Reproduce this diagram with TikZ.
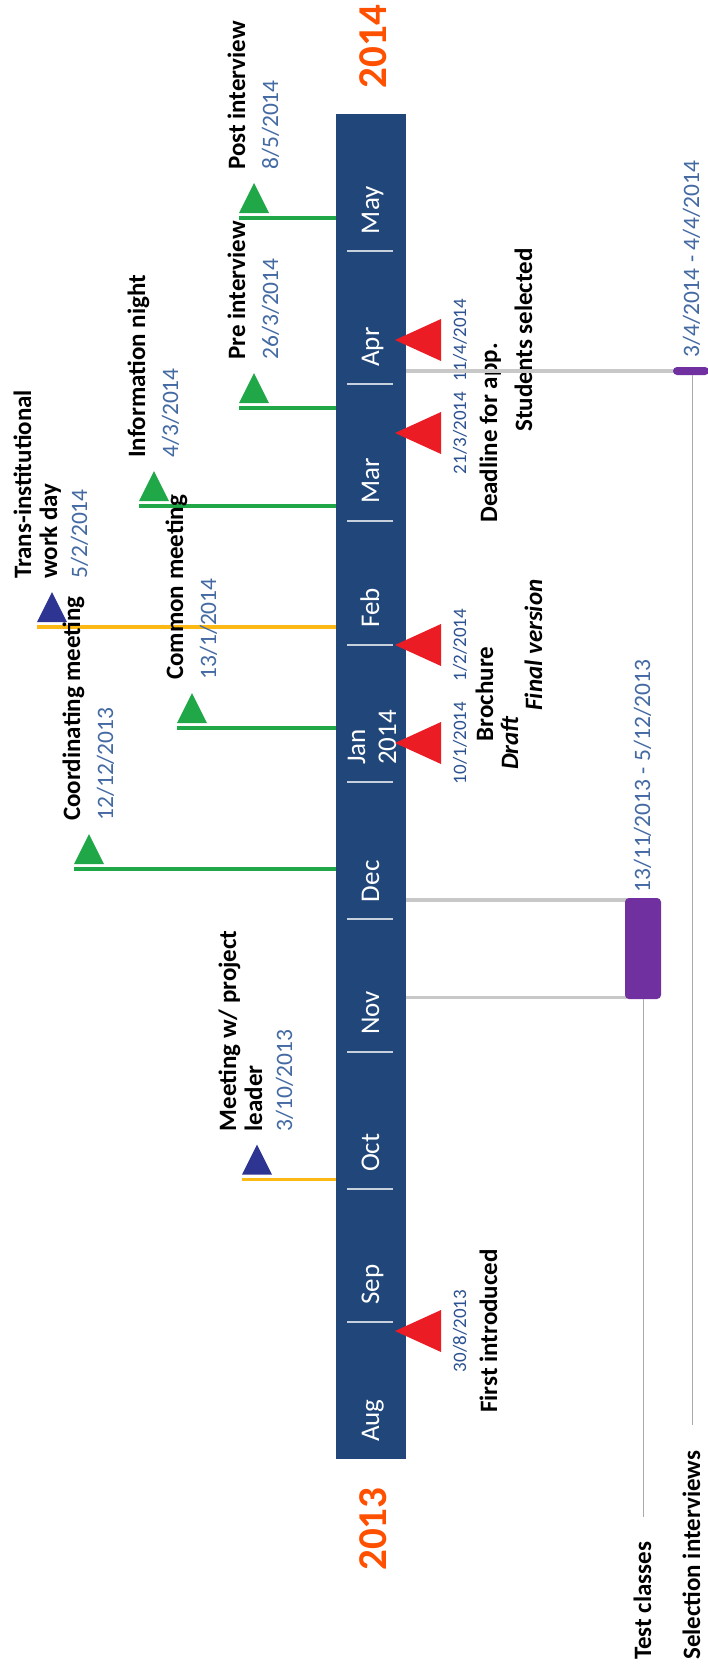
\documentclass[tikz,border=0pt]{standalone}
\usepackage{fontspec}
\setmainfont{Carlito}

\definecolor{barblue}{RGB}{33,71,122}
\definecolor{yearorange}{RGB}{255,80,0}
\definecolor{dateblue}{RGB}{68,106,163}
\definecolor{smallblue}{RGB}{44,82,145}
\definecolor{evgreen}{RGB}{32,168,72}
\definecolor{evblue}{RGB}{46,52,146}
\definecolor{evorange}{RGB}{253,185,19}
\definecolor{evred}{RGB}{236,28,36}
\definecolor{lanepurple}{RGB}{112,48,160}
\definecolor{lanegray}{RGB}{200,200,200}

\begin{document}
\begin{tikzpicture}[x=1pt, y=-1pt,
    vtext/.style={rotate=90, inner sep=0pt, anchor=base west},
    ctext/.style={rotate=90, inner sep=0pt, anchor=base},
    month/.style={vtext, font=\fontsize{27}{32}\selectfont, text=white},
    year/.style={ctext, font=\fontsize{41}{48}\selectfont\bfseries, text=yearorange},
    evlabel/.style={font=\fontsize{25}{30}\selectfont\bfseries},
    evdate/.style={font=\fontsize{23.5}{28}\selectfont, text=dateblue},
    smalldate/.style={font=\fontsize{19}{23}\selectfont, text=smallblue},
    sepline/.style={white!75!barblue, line width=2.5pt},
    evline/.style={line width=3.5pt},
    laneline/.style={lanegray, line width=3.5pt},
    thinline/.style={lanegray!85!black, line width=1pt},
    lanebar/.style={fill=lanepurple, rounded corners=4pt, minimum width=36pt, inner sep=0pt}
]
    % 背景
    \fill[white] (0,0) rectangle (707,1668);
    \useasboundingbox (0,0) rectangle (707,1668);

    % 时间轴
    \node[fill=barblue, minimum width=70pt, minimum height=1345pt, inner sep=0pt] (bar) at (371,786.5) {};
    \foreach \ys in {1321.8, 1189.1, 1051.9, 919.2, 782.1, 645, 521.1, 384, 251.2} {
        \draw[sepline] (347,\ys) -- (393,\ys);
    }
    \foreach \m/\ys in {Aug/1459, Sep/1321.8, Oct/1189.1, Nov/1051.9, Dec/919.2, Feb/645, Mar/521.1, Apr/384, May/251.2} {
        \node[month] (m-\m) at (379,\ys-17) {\m};
    }
    \node[month] (m-Jan) at (365,765) {Jan};
    \node[month] (m-Jan2) at (396,765) {2014};

    % 年份
    \node[year] (y2014) at (386,46.5) {2014};
    \node[year] (y2013) at (386,1529) {2013};

    % 上方事件
    \coordinate (post) at (239,218);
    \coordinate (pre) at (239,408);
    \coordinate (info) at (139,506);
    \coordinate (trans) at (37,627);
    \coordinate (coord) at (74,869);
    \coordinate (common) at (177,728);
    \coordinate (lead) at (242,1179.5);

    \foreach \p in {post, pre, info, coord, common} {
        \draw[evline, evgreen] (\p) -- (\p -| bar.west);
    }
    \foreach \p in {trans, lead} {
        \draw[evline, evorange] (\p) -- (\p -| bar.west);
    }
    \foreach \p/\c in {post/evgreen, pre/evgreen, info/evgreen, coord/evgreen, common/evgreen, trans/evblue, lead/evblue} {
        \fill[\c] ([yshift=5pt]\p) -- ++(30,0) -- ++(-15,-30) -- cycle;
    }

    \node[vtext, evlabel] (post-l) at ([shift={(6,-48)}]post) {Post interview};
    \node[vtext, evdate] (post-d) at ([shift={(39,-48)}]post) {8/5/2014};
    \node[vtext, evlabel] (pre-l) at ([shift={(6,-48)}]pre) {Pre interview};
    \node[vtext, evdate] (pre-d) at ([shift={(39,-48)}]pre) {26/3/2014};
    \node[vtext, evlabel] (info-l) at ([shift={(6,-48)}]info) {Information night};
    \node[vtext, evdate] (info-d) at ([shift={(39,-48)}]info) {4/3/2014};
    \node[vtext, evlabel] (trans-l) at ([shift={(-6,-48)}]trans) {Trans-institutional};
    \node[vtext, evlabel] (trans-l2) at ([shift={(20,-48)}]trans) {work day};
    \node[vtext, evdate] (trans-d) at ([shift={(50,-48)}]trans) {5/2/2014};
    \node[vtext, evlabel] (coord-l) at ([shift={(6,-48)}]coord) {Coordinating meeting};
    \node[vtext, evdate] (coord-d) at ([shift={(39,-48)}]coord) {12/12/2013};
    \node[vtext, evlabel] (common-l) at ([shift={(6,-48)}]common) {Common meeting};
    \node[vtext, evdate] (common-d) at ([shift={(39,-48)}]common) {13/1/2014};
    \node[vtext, evlabel] (lead-l) at ([shift={(-6,-48)}]lead) {Meeting w/ project};
    \node[vtext, evlabel] (lead-l2) at ([shift={(20,-48)}]lead) {leader};
    \node[vtext, evdate] (lead-d) at ([shift={(50,-48)}]lead) {3/10/2013};

    % 下方事件
    \foreach \n/\yy in {first/1331, draft/743, final/645, deadline/433, selected/340} {
        \coordinate (\n) at (395,\yy);
        \fill[evred] (\n) -- ++(46,-21) -- ++(0,42) -- cycle;
    }
    \node[ctext, smalldate] (first-d) at ([xshift=71pt]first) {30/8/2013};
    \node[ctext, evlabel] (first-l) at ([xshift=102pt]first) {First introduced};
    \node[ctext, smalldate] (draft-d) at ([xshift=71pt]draft) {10/1/2014};
    \node[ctext, smalldate] (final-d) at ([xshift=71pt]final) {1/2/2014};
    \node[ctext, evlabel] (broch-l) at (493,694) {Brochure};
    \node[ctext, evlabel] (draft-l) at ([xshift=123pt]draft) {\itshape Draft};
    \node[ctext, evlabel] (final-l) at ([xshift=147pt]final) {\itshape Final version};
    \node[ctext, smalldate] (deadline-d) at ([xshift=71pt]deadline) {21/3/2014};
    \node[ctext, evlabel] (deadline-l) at ([xshift=102pt]deadline) {Deadline for app.};
    \node[ctext, smalldate] (selected-d) at ([xshift=71pt]selected) {11/4/2014};
    \node[ctext, evlabel] (selected-l) at ([xshift=137pt]selected) {Students selected};

    % 泳道
    \coordinate (tc-top) at (630,900);
    \coordinate (tc-bot) at (630,997.5);
    \coordinate (si-mid) at (680,371);
    \draw[laneline] (tc-top -| bar.east) -- (tc-top);
    \draw[laneline] (tc-bot -| bar.east) -- (tc-bot);
    \draw[laneline] (si-mid -| bar.east) -- (si-mid);
    \node[lanebar, minimum height=101pt] (tclass) at (643,948.5) {};
    \node[lanebar, minimum height=8pt] (sint) at (691,371) {};
    \coordinate (tc-end) at (643,1517);
    \coordinate (si-end) at (692,1425);
    \draw[thinline] (tclass.south) -- (tc-end);
    \draw[thinline] (sint.south -| si-end) -- (si-end);
    \node[vtext, evlabel] (tc-l) at (651,1660) {Test classes};
    \node[vtext, evlabel] (si-l) at (700,1660) {Selection interviews};
    \node[vtext, evdate] (tc-d) at (650,893) {13/11/2013 - 5/12/2013};
    \node[vtext, evdate] (si-d) at (699,358) {3/4/2014 - 4/4/2014};
\end{tikzpicture}
\end{document}
